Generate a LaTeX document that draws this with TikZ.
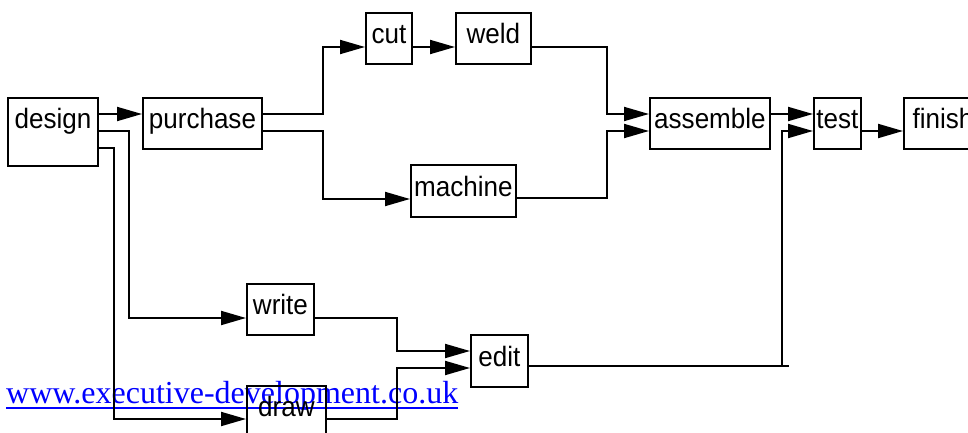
\documentclass[tikz,border=0pt]{standalone}
\usepackage{fontspec}
\newfontfamily\labfont[FakeStretch=0.93]{Liberation Sans}
\newfontfamily\linkfont{Liberation Serif}
\usetikzlibrary{arrows.meta}
\tikzset{
  box/.style={draw, line width=1.9pt, inner sep=0pt, anchor=north west,
    font=\labfont\fontsize{28}{30}\selectfont, text height=20pt, text depth=9pt},
  conn/.style={line width=1.9pt},
  arr/.style={conn, -{Triangle[length=25pt,width=14pt]}},
}
\begin{document}
\begin{tikzpicture}[x=1pt,y=-1pt]
\clip (0,0) rectangle (968,433);
\fill[white] (0,0) rectangle (968,433);
% link text
\node[anchor=base west, inner sep=0pt, text=blue, font=\linkfont\fontsize{32}{34}\selectfont] (link) at (6,403) {www.executive-development.co.uk};
\draw[blue, line width=2pt] ([yshift=-5pt]link.base west) -- ([yshift=-5pt]link.base east);
% boxes
\node[box, minimum width=90pt, minimum height=68pt, text height=12pt, text depth=18pt] (design) at (7,97) {design};
\node[box, minimum width=119pt, minimum height=51pt] (purchase) at (142,97) {purchase};
\node[box, minimum width=46pt, minimum height=51pt] (cut) at (365,12) {cut};
\node[box, minimum width=75pt, minimum height=51pt] (weld) at (455,12) {weld};
\node[box, minimum width=105pt, minimum height=52pt] (machine) at (410,164) {machine};
\node[box, minimum width=120pt, minimum height=51pt] (assemble) at (649,97) {assemble};
\node[box, minimum width=47pt, minimum height=51pt] (test) at (813,97) {test};
\node[box, minimum width=78pt, minimum height=51pt] (finish) at (903,97) {finish};
\node[box, minimum width=67pt, minimum height=51pt] (write) at (246,283) {write};
\node[box, minimum width=79pt, minimum height=51pt] (drawbox) at (246,385) {draw};
\node[box, minimum width=57pt, minimum height=52pt] (edit) at (470,334) {edit};
% connectors
\draw[arr] ([yshift=-17pt]design.north east) -- ([yshift=-17pt]purchase.north west);
\draw[arr] ([yshift=-34pt]design.north east) -- ++(30,0) |- ([yshift=-35pt]write.north west);
\draw[arr] ([yshift=-51pt]design.north east) -- ++(15,0) |- ([yshift=-34pt]drawbox.north west);
\draw[arr] ([yshift=-17pt]purchase.north east) -- ++(60,0) |- ([yshift=-35pt]cut.north west);
\draw[arr] ([yshift=-34pt]purchase.north east) -- ++(60,0) |- ([yshift=-35pt]machine.north west);
\draw[arr] ([yshift=-35pt]cut.north east) -- ([yshift=-35pt]weld.north west);
\draw[arr] ([yshift=-35pt]weld.north east) -- ++(75,0) |- ([yshift=-17pt]assemble.north west);
\draw[arr] ([yshift=-34pt]machine.north east) -- ++(90,0) |- ([yshift=-34pt]assemble.north west);
\draw[arr] ([yshift=-17pt]assemble.north east) -- ([yshift=-17pt]test.north west);
\draw[arr] ([yshift=-34pt]test.north east) -- ([yshift=-34pt]finish.north west);
\draw[arr] ([yshift=-35pt]write.north east) -- ++(82,0) |- ([yshift=-17pt]edit.north west);
\draw[arr] ([yshift=-34pt]drawbox.north east) -- ++(70,0) |- ([yshift=-34pt]edit.north west);
\draw[conn] ([yshift=-32pt]edit.north east) -- ++(260,0) coordinate (editend);
\draw[arr] ([xshift=-7pt]editend) |- ([yshift=-34pt]test.north west);
\end{tikzpicture}
\end{document}
